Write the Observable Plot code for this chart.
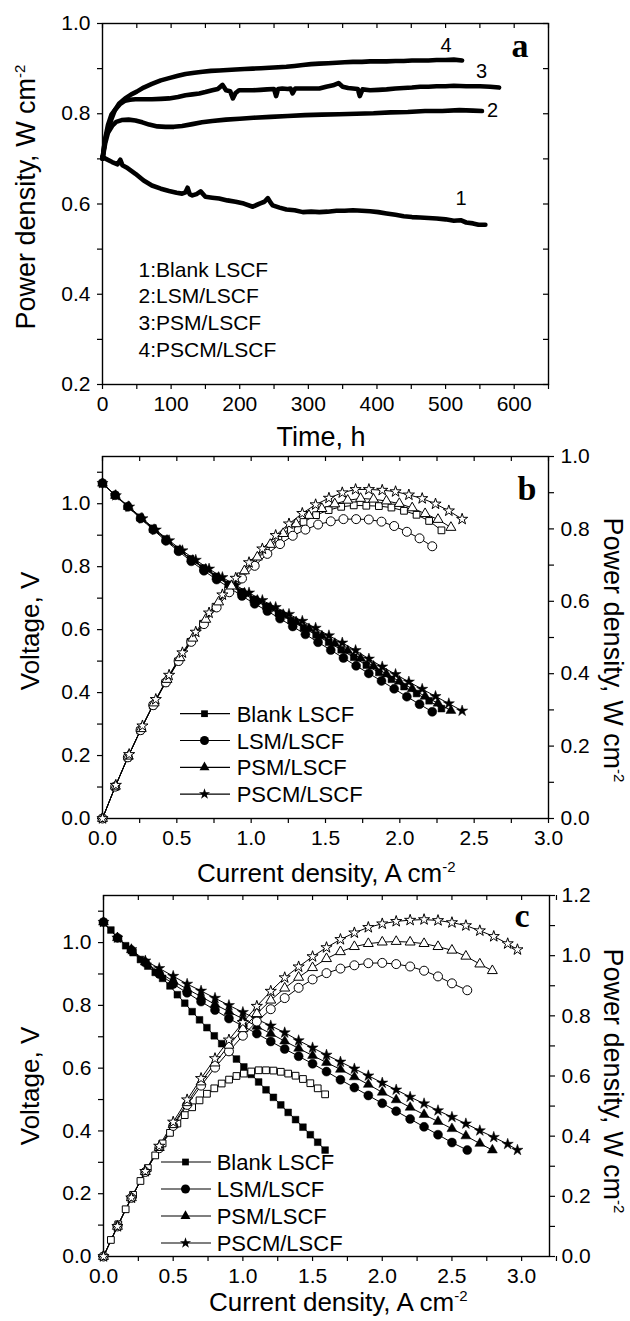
<!DOCTYPE html>
<html><head><meta charset="utf-8">
<script src="https://cdn.jsdelivr.net/npm/d3@7"></script>
<script src="https://cdn.jsdelivr.net/npm/@observablehq/plot@0.6"></script>
<style>
body{margin:0;background:#fff;overflow:hidden;}
#fig{position:relative;width:630px;height:1321px;background:#fff;}
#fig svg{position:absolute;left:0;overflow:visible;max-width:none;}
</style></head><body><div id="fig"></div>
<script>
// ---------------- DATA ----------------
// Panel a: power density vs time
const aNames = ["1:Blank LSCF","2:LSM/LSCF","3:PSM/LSCF","4:PSCM/LSCF"];
const aCurveLabels = ["1","2","3","4"];
const aTime1 = [0,5,14,22,26,29,35,48,60,72,85,97,108,116,121,124,127,131,137,143,150,160,170,182,194,206,219,229,236,241,245,248,258,268,280,292,304,316,328,341,353,365,378,390,402,414,427,439,451,463,475,487,500,512,522,530,540,548,558];
const aPow1  = [0.705,0.70,0.693,0.688,0.698,0.686,0.681,0.667,0.652,0.641,0.634,0.629,0.625,0.623,0.626,0.636,0.622,0.619,0.622,0.628,0.616,0.614,0.612,0.608,0.605,0.601,0.594,0.601,0.605,0.613,0.603,0.597,0.592,0.588,0.586,0.582,0.583,0.582,0.583,0.585,0.585,0.586,0.585,0.584,0.582,0.579,0.576,0.573,0.571,0.57,0.569,0.568,0.566,0.563,0.564,0.559,0.557,0.554,0.554];
const aTime2 = [0,4,8,14,20,28,38,48,58,68,80,92,104,116,131,145,160,180,200,220,245,270,295,320,345,370,395,420,445,470,495,520,540,553];
const aPow2  = [0.70,0.735,0.758,0.773,0.782,0.786,0.787,0.785,0.781,0.776,0.772,0.771,0.771,0.773,0.777,0.781,0.784,0.787,0.789,0.791,0.793,0.795,0.797,0.798,0.799,0.800,0.801,0.803,0.804,0.806,0.806,0.808,0.807,0.806];
const aTime3 = [0,4,8,13,19,26,33,40,48,60,72,85,97,110,121,131,141,150,160,168,175,180,186,190,194,199,210,219,230,240,250,253,256,262,270,274,277,281,292,304,316,326,336,344,350,358,365,372,375,379,390,402,414,427,439,451,463,475,487,500,512,530,550,565,578];
const aPow3  = [0.70,0.745,0.775,0.798,0.81,0.822,0.829,0.831,0.832,0.832,0.832,0.833,0.834,0.837,0.841,0.843,0.845,0.848,0.852,0.855,0.864,0.852,0.85,0.834,0.846,0.852,0.852,0.852,0.853,0.854,0.855,0.839,0.855,0.856,0.855,0.856,0.845,0.856,0.856,0.856,0.856,0.86,0.863,0.868,0.86,0.857,0.856,0.855,0.839,0.854,0.852,0.853,0.854,0.856,0.857,0.858,0.86,0.86,0.861,0.861,0.862,0.861,0.861,0.86,0.858];
const aTime4 = [0,3,6,9,13,18,24,33,42,50,60,72,85,97,110,121,134,146,158,170,182,194,207,219,231,243,256,268,280,292,304,316,329,341,353,365,378,390,402,414,427,439,451,463,475,487,500,512,524];
const aPow4  = [0.70,0.735,0.755,0.768,0.788,0.808,0.822,0.834,0.843,0.849,0.858,0.866,0.874,0.879,0.884,0.888,0.891,0.893,0.895,0.896,0.897,0.898,0.899,0.9,0.901,0.902,0.903,0.904,0.906,0.908,0.91,0.911,0.912,0.913,0.914,0.915,0.915,0.916,0.916,0.916,0.917,0.917,0.918,0.918,0.918,0.919,0.919,0.92,0.918];
const aTimeTicks = [0,100,200,300,400,500,600];
const aPowerTicks = [0.2,0.4,0.6,0.8,1.0];

// Panels b and c: voltage / power density vs current density
const cellNames = ["Blank LSCF","LSM/LSCF","PSM/LSCF","PSCM/LSCF"];
// panel b
const bCur = [
  [0,0.0845,0.169,0.2535,0.338,0.4225,0.507,0.5915,0.676,0.7605,0.845,0.9295,1.014,1.0985,1.183,1.2675,1.352,1.4365,1.521,1.6055,1.69,1.7745,1.859,1.9435,2.028,2.1125,2.197,2.28],
  [0,0.0853,0.1706,0.2559,0.3412,0.4265,0.5118,0.5971,0.6824,0.7677,0.853,0.9383,1.0236,1.1089,1.1942,1.2795,1.3648,1.4501,1.5354,1.6207,1.706,1.7913,1.8766,1.9619,2.0472,2.1325,2.218],
  [0,0.0868,0.1736,0.2604,0.3472,0.434,0.5208,0.6076,0.6944,0.7812,0.868,0.9548,1.0416,1.1284,1.2152,1.302,1.3888,1.4756,1.5624,1.6492,1.736,1.8228,1.9096,1.9964,2.0832,2.17,2.2568,2.3436],
  [0,0.0896,0.1792,0.2688,0.3584,0.448,0.5376,0.6272,0.7168,0.8064,0.896,0.9856,1.0752,1.1648,1.2544,1.344,1.4336,1.5232,1.6128,1.7024,1.792,1.8816,1.9712,2.0608,2.1504,2.24,2.3296,2.419]
];
const bVolt = [
  [1.065,1.027,0.992,0.957,0.922,0.888,0.855,0.825,0.796,0.769,0.744,0.72,0.696,0.674,0.652,0.629,0.606,0.583,0.56,0.536,0.512,0.487,0.464,0.442,0.419,0.397,0.374,0.349],
  [1.065,1.027,0.99,0.953,0.917,0.882,0.849,0.817,0.787,0.759,0.733,0.707,0.682,0.659,0.635,0.61,0.585,0.56,0.535,0.51,0.485,0.461,0.437,0.412,0.387,0.363,0.339],
  [1.065,1.026,0.991,0.954,0.918,0.884,0.852,0.82,0.792,0.766,0.74,0.716,0.693,0.671,0.648,0.625,0.603,0.58,0.556,0.533,0.509,0.484,0.459,0.436,0.412,0.388,0.366,0.343],
  [1.065,1.026,0.99,0.953,0.917,0.883,0.851,0.821,0.793,0.766,0.741,0.717,0.693,0.671,0.649,0.627,0.605,0.581,0.558,0.534,0.507,0.482,0.458,0.434,0.411,0.388,0.365,0.342]
];
const bPow = [
  [0,0.087,0.168,0.243,0.312,0.375,0.434,0.488,0.538,0.585,0.629,0.669,0.706,0.74,0.771,0.797,0.819,0.838,0.852,0.861,0.865,0.864,0.863,0.859,0.85,0.839,0.822,0.796],
  [0,0.088,0.169,0.244,0.313,0.376,0.435,0.488,0.537,0.583,0.625,0.663,0.698,0.731,0.758,0.781,0.798,0.812,0.821,0.827,0.827,0.826,0.82,0.808,0.792,0.774,0.752],
  [0,0.089,0.172,0.248,0.319,0.384,0.444,0.498,0.55,0.598,0.642,0.684,0.722,0.757,0.787,0.814,0.837,0.856,0.869,0.879,0.884,0.882,0.877,0.87,0.858,0.842,0.826,0.804],
  [0,0.092,0.177,0.256,0.329,0.396,0.458,0.515,0.568,0.618,0.664,0.707,0.745,0.782,0.814,0.843,0.867,0.885,0.9,0.909,0.909,0.907,0.903,0.894,0.884,0.869,0.85,0.827]
];
// panel c
const cCur = [
  [0,0.053,0.106,0.159,0.212,0.265,0.318,0.371,0.424,0.477,0.53,0.583,0.636,0.689,0.742,0.795,0.848,0.901,0.954,1.007,1.06,1.113,1.166,1.219,1.272,1.325,1.378,1.431,1.484,1.537,1.59],
  [0,0.1,0.2,0.3,0.4,0.5,0.6,0.7,0.8,0.9,1.0,1.1,1.2,1.3,1.4,1.5,1.6,1.7,1.8,1.9,2.0,2.1,2.2,2.3,2.4,2.5,2.61],
  [0,0.1,0.2,0.3,0.4,0.5,0.6,0.7,0.8,0.9,1.0,1.1,1.2,1.3,1.4,1.5,1.6,1.7,1.8,1.9,2.0,2.1,2.2,2.3,2.4,2.5,2.6,2.7,2.79],
  [0,0.1,0.2,0.3,0.4,0.5,0.6,0.7,0.8,0.9,1.0,1.1,1.2,1.3,1.4,1.5,1.6,1.7,1.8,1.9,2.0,2.1,2.2,2.3,2.4,2.5,2.6,2.7,2.8,2.9,2.97]
];
const cVolt = [
  [1.065,1.04,1.013,0.99,0.968,0.946,0.925,0.905,0.886,0.862,0.834,0.807,0.78,0.754,0.729,0.703,0.678,0.653,0.629,0.604,0.58,0.556,0.531,0.507,0.483,0.459,0.436,0.412,0.388,0.364,0.339],
  [1.065,1.015,0.976,0.936,0.9,0.868,0.84,0.812,0.785,0.758,0.734,0.71,0.685,0.661,0.638,0.614,0.589,0.563,0.538,0.513,0.488,0.463,0.438,0.413,0.388,0.363,0.339],
  [1.065,1.015,0.977,0.938,0.905,0.877,0.852,0.828,0.803,0.78,0.757,0.733,0.71,0.686,0.663,0.64,0.618,0.596,0.572,0.548,0.523,0.499,0.475,0.452,0.43,0.407,0.384,0.36,0.339],
  [1.065,1.015,0.978,0.942,0.918,0.893,0.868,0.846,0.823,0.80,0.778,0.756,0.735,0.713,0.688,0.665,0.642,0.62,0.598,0.576,0.553,0.531,0.508,0.487,0.465,0.444,0.423,0.401,0.38,0.358,0.339]
];
const cPow = [
  [0,0.055,0.107,0.157,0.205,0.251,0.294,0.336,0.376,0.411,0.442,0.47,0.496,0.519,0.541,0.559,0.575,0.588,0.6,0.608,0.615,0.619,0.619,0.618,0.614,0.608,0.601,0.59,0.576,0.559,0.539],
  [0,0.10,0.195,0.281,0.36,0.434,0.504,0.568,0.628,0.682,0.734,0.781,0.822,0.859,0.893,0.921,0.942,0.957,0.968,0.975,0.976,0.972,0.964,0.95,0.931,0.908,0.885],
  [0,0.10,0.195,0.282,0.362,0.438,0.511,0.58,0.643,0.702,0.757,0.807,0.852,0.892,0.928,0.96,0.99,1.013,1.03,1.04,1.045,1.047,1.045,1.04,1.03,1.018,0.998,0.972,0.95],
  [0,0.10,0.195,0.283,0.367,0.447,0.521,0.592,0.658,0.72,0.778,0.832,0.882,0.927,0.963,0.997,1.027,1.054,1.076,1.094,1.106,1.114,1.118,1.12,1.117,1.11,1.10,1.083,1.064,1.04,1.02]
];
const curTicks = [0,0.5,1.0,1.5,2.0,2.5,3.0];
const voltTicks = [0,0.2,0.4,0.6,0.8,1.0];
const bPowTicks = [0,0.2,0.4,0.6,0.8,1.0];
const cPowTicks = [0,0.2,0.4,0.6,0.8,1.0,1.2];

// ---------------- STYLE / LAYOUT ----------------
const FONT = "'Liberation Sans', Arial, Helvetica, sans-serif";
const SERIF = "'Liberation Serif', 'Times New Roman', serif";
const symbols = ["square","circle","triangle","star"];
const symR = [3.8, 4.5, 3.7, 3.5];
const fig = document.getElementById("fig");
const f1 = d3.format(".1f");
const near = (arr) => (d) => arr.some(m => Math.abs(m - d) < 1e-6);
const steps = (a, b, s) => d3.range(Math.round(a / s), Math.round(b / s) + 1).map(k => +(k * s).toFixed(4));

function place(svg, top) {
  svg.style.position = "absolute";
  svg.style.top = top + "px";
  svg.style.left = "0px";
  fig.appendChild(svg);
  return svg;
}
const baseStyle = {fontSize: "21px", fontFamily: FONT, background: "transparent", color: "#000", overflow: "visible"};

// ---------------- PANEL A ----------------
{
  const H = 450, mt = 23, mb = 66, ml = 102, mr = 82;
  const innerH = H - mt - mb, innerW = 630 - ml - mr;
  const rows = [];
  [[aTime1, aPow1], [aTime2, aPow2], [aTime3, aPow3], [aTime4, aPow4]].forEach(([t, p], k) =>
    t.forEach((x, j) => rows.push({s: aNames[k], t: x, p: p[j]})));
  const xMinor = steps(0, 650, 50), yMinor = steps(0.2, 1.0, 0.1);
  const svg = Plot.plot({
    width: 630, height: H, marginTop: mt, marginBottom: mb, marginLeft: ml, marginRight: mr,
    x: {domain: [0, 650]}, y: {domain: [0.2, 1.0]},
    style: baseStyle,
    marks: [
      Plot.line(rows, {x: "t", y: "p", z: "s", stroke: "#000", strokeWidth: 4.6, strokeLinejoin: "round", strokeLinecap: "round"}),
      Plot.frame({stroke: "#000", strokeWidth: 1.4}),
      Plot.axisX({ticks: xMinor, tickFormat: d => near(aTimeTicks)(d) ? d3.format("d")(d) : "", tickSize: 5, tickPadding: 7, strokeWidth: 1.2, label: null}),
      Plot.axisY({ticks: yMinor, tickFormat: d => near(aPowerTicks)(d) ? f1(d) : "", tickSize: 5, tickPadding: 7, strokeWidth: 1.2, label: null}),
      Plot.tickX(xMinor, {x: d => d, insetBottom: innerH - 5, stroke: "#000", strokeWidth: 1.2}),
      Plot.tickY(yMinor, {y: d => d, insetLeft: innerW - 5, stroke: "#000", strokeWidth: 1.2})
    ]
  });
  place(svg, 0);
}

// ---------------- PANELS B, C ----------------
function ivPanel({top, H, mt, mb, ml, mr, xMax, vMax, pMax, cur, volt, pow, pTicks}) {
  const innerH = H - mt - mb;
  const rows = [];
  cur.forEach((arr, k) => arr.forEach((x, j) => rows.push({k, s: cellNames[k], i: x, v: volt[k][j], p: pow[k][j]})));
  const xMinor = steps(0, xMax, 0.25), vMinor = steps(0, 1.1, 0.1), pMinor = steps(0, pMax, 0.1);
  const vMarks = [], pMarks = [];
  cellNames.forEach((name, k) => {
    const d = rows.filter(r => r.k === k);
    vMarks.push(Plot.line(d, {x: "i", y: "v", stroke: "#000", strokeWidth: 1}));
    pMarks.push(Plot.line(d, {x: "i", y: "p", stroke: "#000", strokeWidth: 1}));
  });
  cellNames.forEach((name, k) => {
    const d = rows.filter(r => r.k === k);
    vMarks.push(Plot.dot(d, {x: "i", y: "v", symbol: symbols[k], r: symR[k], fill: "#000", stroke: "#000", strokeWidth: 0.5}));
    pMarks.push(Plot.dot(d, {x: "i", y: "p", symbol: symbols[k], r: symR[k], fill: "#fff", stroke: "#000", strokeWidth: 1}));
  });
  const common = {width: 630, height: H, marginTop: mt, marginBottom: mb, marginLeft: ml, marginRight: mr, style: baseStyle};
  const vSvg = Plot.plot({
    ...common,
    x: {domain: [0, xMax]}, y: {domain: [0, vMax]},
    marks: [
      ...vMarks,
      Plot.frame({stroke: "#000", strokeWidth: 1.4}),
      Plot.axisX({ticks: xMinor, tickFormat: d => near(curTicks)(d) ? f1(d) : "", tickSize: 5, tickPadding: 7, strokeWidth: 1.2, label: null}),
      Plot.axisY({ticks: vMinor, tickFormat: d => near(voltTicks)(d) ? f1(d) : "", tickSize: 5, tickPadding: 7, strokeWidth: 1.2, label: null}),
      Plot.tickX(xMinor, {x: d => d, insetBottom: innerH - 5, stroke: "#000", strokeWidth: 1.2})
    ]
  });
  place(vSvg, top);
  const pSvg = Plot.plot({
    ...common,
    x: {domain: [0, xMax], axis: null}, y: {domain: [0, pMax]},
    marks: [
      ...pMarks,
      Plot.axisY({anchor: "right", ticks: pMinor, tickFormat: d => near(pTicks)(d) ? f1(d) : "", tickSize: 5, tickPadding: 7, strokeWidth: 1.2, label: null})
    ]
  });
  place(pSvg, top);
}
ivPanel({top: 440, H: 440, mt: 16, mb: 62, ml: 102, mr: 82, xMax: 3.0, vMax: 1.15, pMax: 1.0, cur: bCur, volt: bVolt, pow: bPow, pTicks: bPowTicks});
ivPanel({top: 880, H: 441, mt: 15, mb: 65, ml: 103, mr: 81, xMax: 3.2, vMax: 1.15, pMax: 1.2, cur: cCur, volt: cVolt, pow: cPow, pTicks: cPowTicks});

// ---------------- TITLES, LEGENDS, LABELS ----------------
const ann = d3.create("svg").attr("width", 630).attr("height", 1321)
  .style("position", "absolute").style("top", "0px").style("left", "0px").style("pointer-events", "none");
function txt(x, y, parts, o = {}) {
  const t = ann.append("text").attr("x", x).attr("y", y)
    .attr("font-family", o.family || FONT).attr("font-size", o.size || 21)
    .attr("font-weight", o.weight || "normal").attr("fill", "#000")
    .attr("text-anchor", o.anchor || "start");
  if (o.rotate) t.attr("transform", `rotate(${o.rotate},${x},${y})`);
  parts.forEach(p => {
    if (typeof p === "string") t.append("tspan").text(p);
    else t.append("tspan").attr("font-size", p.size || 15).attr("dy", -(p.raise || 10)).text(p.sup);
  });
  return t;
}
const TS = 26;
// panel a
txt(34.5, 197, ["Power density, W cm", {sup: "-2"}], {size: 27, anchor: "middle", rotate: -90});
txt(321, 446, ["Time, h"], {size: 27, anchor: "middle"});
txt(520, 57, ["a"], {size: 34, family: SERIF, weight: "bold", anchor: "middle"});
const aLabelPos = [[461, 205], [492.6, 116.7], [481.5, 78.3], [446, 51.7]];
aCurveLabels.forEach((l, k) => txt(aLabelPos[k][0], aLabelPos[k][1], [l], {size: 20, anchor: "middle"}));
aNames.forEach((n, k) => txt(138.6, 276.5 + k * 26.7, [n], {size: 21}));
// panel b
txt(38.5, 631, ["Voltage, V"], {size: TS, anchor: "middle", rotate: -90});
txt(604, 650, ["Power density, W cm", {sup: "-2"}], {size: 27, anchor: "middle", rotate: 90});
txt(197, 882, ["Current density, A cm", {sup: "-2"}], {size: TS});
txt(527, 500, ["b"], {size: 34, family: SERIF, weight: "bold", anchor: "middle"});
// panel c
txt(38.5, 1086, ["Voltage, V"], {size: TS, anchor: "middle", rotate: -90});
txt(604, 1081, ["Power density, W cm", {sup: "-2"}], {size: 27, anchor: "middle", rotate: 90});
txt(209, 1311, ["Current density, A cm", {sup: "-2"}], {size: TS});
txt(522, 926.7, ["c"], {size: 34, family: SERIF, weight: "bold", anchor: "middle"});
// legends for b and c
const symTypes = [d3.symbolSquare, d3.symbolCircle, d3.symbolTriangle, d3.symbolStar];
function legend(x0, x1, xm, xt, base0, step) {
  cellNames.forEach((n, k) => {
    const yb = base0 + k * step, yc = yb - 8;
    ann.append("line").attr("x1", x0).attr("x2", x1).attr("y1", yc).attr("y2", yc).attr("stroke", "#000").attr("stroke-width", 1.2);
    ann.append("path").attr("transform", `translate(${xm},${yc})`)
      .attr("d", d3.symbol().type(symTypes[k]).size(symR[k] * symR[k] * Math.PI)())
      .attr("fill", "#000");
    txt(xt, yb, [n], {size: 22});
  });
}
legend(180, 230, 204.5, 236.7, 721.7, 26.8);
legend(161, 211, 185.5, 216.7, 1170, 27);
fig.appendChild(ann.node());
</script></body></html>
